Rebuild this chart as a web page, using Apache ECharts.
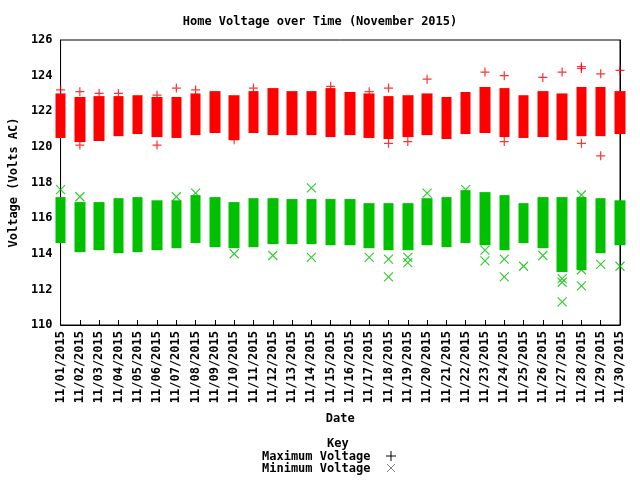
<!DOCTYPE html>
<html><head><meta charset="utf-8">
<script src="https://cdn.jsdelivr.net/npm/echarts@6/dist/echarts.min.js"></script>
<style>html,body{margin:0;padding:0;background:#fff}#c{width:640px;height:480px}</style>
</head><body><div id="c"></div>
<script>
const dates = [];
for (let d = 1; d <= 30; d++) dates.push('11/' + (d < 10 ? '0' + d : d) + '/2015');
const maxHigh = [123.0,122.8,122.85,122.85,122.9,122.8,122.8,123.0,123.13,122.9,123.13,123.3,123.13,123.13,123.3,123.08,123.0,122.85,122.9,123.0,122.8,123.08,123.36,123.3,122.9,123.13,123.0,123.36,123.36,123.13];
const maxLow = [120.5,120.27,120.33,120.6,120.72,120.55,120.5,120.66,120.78,120.38,120.78,120.66,120.66,120.66,120.55,120.66,120.5,120.44,120.55,120.66,120.44,120.72,120.78,120.55,120.5,120.55,120.38,120.6,120.6,120.72];
const minHigh = [117.18,116.9,116.9,117.12,117.18,117.0,117.0,117.29,117.18,116.9,117.12,117.12,117.07,117.07,117.07,117.07,116.84,116.84,116.84,117.12,117.18,117.57,117.46,117.29,116.84,117.18,117.18,117.18,117.12,117.0];
const minLow = [114.6,114.09,114.2,114.03,114.09,114.2,114.31,114.6,114.37,114.31,114.37,114.54,114.54,114.54,114.48,114.48,114.31,114.2,114.2,114.48,114.37,114.6,114.48,114.2,114.6,114.31,112.97,113.08,114.03,114.48];
const plusOutDay = [1,2,3,4,6,7,8,11,15,17,18,20,23,24,26,27,28,28,29,29,30,2,6,10,18,19,24,28];
const plusOutVal = [123.2,123.1,123.0,123.0,122.9,123.3,123.2,123.3,123.4,123.1,123.3,123.8,124.2,124.0,123.9,124.2,124.5,124.4,124.1,119.5,124.3,120.1,120.1,120.4,120.2,120.3,120.3,120.2];
const xOutDay = [1,2,7,8,10,12,14,14,17,18,18,19,19,20,22,23,23,24,24,25,26,27,27,27,28,28,28,29,30];
const xOutVal = [117.6,117.2,117.2,117.4,114.0,113.9,117.7,113.8,113.8,113.7,112.7,113.8,113.5,117.4,117.6,113.6,114.2,113.7,112.7,113.3,113.9,112.4,112.6,111.3,117.3,112.2,113.1,113.4,113.3];
const yTicks = [110,112,114,116,118,120,122,124,126];

const font = 'DejaVu Sans Mono';
const plusPath = 'path://M0,5L10,5M5,0L5,10';
const xPath = 'path://M0,0L10,10M10,0L0,10';
const chart = echarts.init(document.getElementById('c'));
chart.setOption({
  animation: false,
  textStyle: {fontFamily: font, color: '#000'},
  title: {text: 'Home Voltage over Time (November 2015)', left: 'center', top: 11,
    textStyle: {fontFamily: font, fontSize: 12, fontWeight: 'bold', color: '#000'}},
  grid: {left: 58, right: 20, top: 40, bottom: 155, show: true, borderColor: '#000', borderWidth: 1},
  xAxis: {type: 'category', data: dates, boundaryGap: false, name: 'Date', nameLocation: 'middle', nameGap: 88,
    nameTextStyle: {fontFamily: font, fontSize: 12, fontWeight: 'bold', color: '#000'},
    axisLine: {lineStyle: {color: '#000'}}, axisTick: {inside: true, length: 5, lineStyle: {color: '#000'}},
    axisLabel: {rotate: 90, fontFamily: font, fontSize: 12, fontWeight: 'bold', color: '#000', interval: 0, margin: 6},
    splitLine: {show: false}},
  yAxis: [{type: 'value', min: 110, max: 126, interval: 2, name: 'Voltage (Volts AC)', nameLocation: 'middle', nameGap: 35,
    nameTextStyle: {fontFamily: font, fontSize: 12, fontWeight: 'bold', color: '#000'},
    axisLine: {show: true, lineStyle: {color: '#000'}}, axisTick: {inside: true, length: 5, lineStyle: {color: '#000'}},
    axisLabel: {fontFamily: font, fontSize: 12, fontWeight: 'bold', color: '#000', formatter: v => yTicks.includes(v) ? String(v) : ''},
    splitLine: {show: false}},
   {type: 'value', min: 110, max: 126, interval: 2, position: 'right', axisLine: {show: true, lineStyle: {color: '#000'}},
    axisTick: {inside: true, length: 5, lineStyle: {color: '#000'}}, axisLabel: {show: false}, splitLine: {show: false}}],
  series: [
    {type: 'candlestick', barWidth: 11, clip: true,
      data: dates.map((d, i) => [maxLow[i], maxHigh[i], maxLow[i], maxHigh[i]]),
      itemStyle: {color: '#ff0000', color0: '#ff0000', borderColor: '#ff0000', borderColor0: '#ff0000', borderWidth: 0}},
    {type: 'candlestick', barWidth: 11, clip: true,
      data: dates.map((d, i) => [minLow[i], minHigh[i], minLow[i], minHigh[i]]),
      itemStyle: {color: '#00c000', color0: '#00c000', borderColor: '#00c000', borderColor0: '#00c000', borderWidth: 0}},
    {type: 'scatter', symbol: plusPath, symbolSize: 9, clip: true,
      data: plusOutDay.map((d, i) => [d - 1, plusOutVal[i]]),
      itemStyle: {color: 'none', borderColor: '#ff0000', borderWidth: 1.2}},
    {type: 'scatter', symbol: xPath, symbolSize: 9, clip: true,
      data: xOutDay.map((d, i) => [d - 1, xOutVal[i]]),
      itemStyle: {color: 'none', borderColor: '#00c000', borderWidth: 1.2}}
  ],
  graphic: [
    {type: 'text', left: 327, top: 438, style: {text: 'Key', font: 'bold 12px ' + font, fill: '#000'}},
    {type: 'text', left: 262, top: 451, style: {text: 'Maximum Voltage', font: 'bold 12px ' + font, fill: '#000'}},
    {type: 'text', left: 262, top: 463, style: {text: 'Minimum Voltage', font: 'bold 12px ' + font, fill: '#000'}},
    {type: 'polyline', shape: {points: [[386, 456], [396, 456]]}, style: {stroke: '#000', lineWidth: 1}},
    {type: 'polyline', shape: {points: [[391, 451], [391, 461]]}, style: {stroke: '#000', lineWidth: 1}},
    {type: 'polyline', shape: {points: [[387, 464], [395, 472]]}, style: {stroke: '#808080', lineWidth: 1}},
    {type: 'polyline', shape: {points: [[395, 464], [387, 472]]}, style: {stroke: '#808080', lineWidth: 1}}
  ]
});
</script></body></html>
